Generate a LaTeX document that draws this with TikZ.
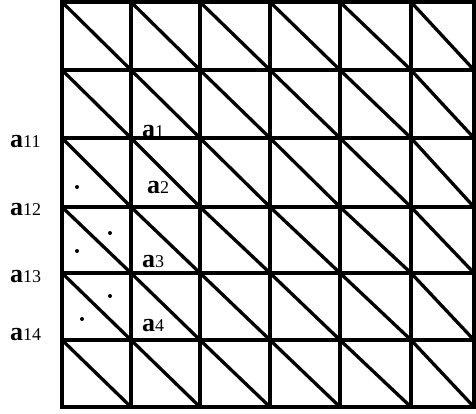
\documentclass[tikz,border=0pt]{standalone}
\usepackage{fontspec}
\setmainfont{Liberation Serif}
\newcommand\alab[1]{{\fontsize{26}{26}\selectfont\bfseries a}{\fontsize{18}{18}\selectfont #1}}
\begin{document}
\begin{tikzpicture}[x=1pt,y=-1pt,
  gridline/.style={line width=3.3pt,line cap=rect},
  lab/.style={inner sep=0pt,anchor=base west},
  dotmark/.style={circle,fill=black,inner sep=0pt,minimum size=4pt}]
\useasboundingbox (0,0) rectangle (476,413);
\def\xs{62,131,200,270,340,411,474}
\def\ys{2,70,138,207,273,340,407}
\foreach \x in \xs \draw[gridline] (\x,2) -- (\x,407);
\foreach \y in \ys \draw[gridline] (62,\y) -- (474,\y);
\foreach \xa/\xb in {62/131,131/200,200/270,270/340,340/411,411/474}
  \foreach \ya/\yb in {2/70,70/138,138/207,207/273,273/340,340/407}
    \draw[gridline,line cap=butt] (\xa,\ya) -- (\xb,\yb);
\node[lab] (l11) at (10,147) {\alab{11}};
\node[lab] (l12) at (10,215) {\alab{12}};
\node[lab] (l13) at (10,282) {\alab{13}};
\node[lab] (l14) at (10,340) {\alab{14}};
\node[lab] (i1) at (142,137) {\alab{1}};
\node[lab] (i2) at (147,193) {\alab{2}};
\node[lab] (i3) at (142,267) {\alab{3}};
\node[lab] (i4) at (142,331) {\alab{4}};
\node[dotmark] (d1) at (77,187) {};
\node[dotmark] (d2) at (110,233) {};
\node[dotmark] (d3) at (77,251) {};
\node[dotmark] (d4) at (110,296) {};
\node[dotmark] (d5) at (82,319) {};
\end{tikzpicture}
\end{document}
